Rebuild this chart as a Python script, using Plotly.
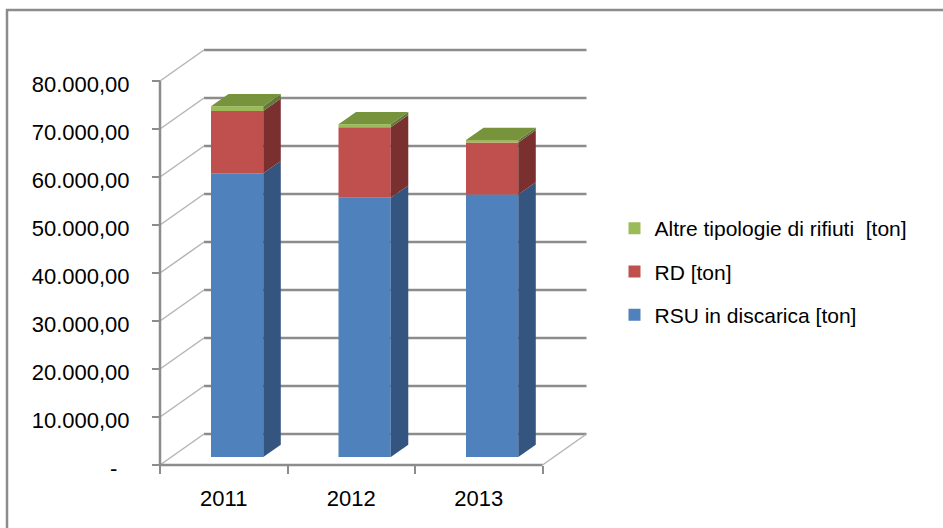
import plotly.graph_objects as go

# ---------------- data ----------------
years = ["2011", "2012", "2013"]
rsu = [59100, 54000, 54700]          # RSU in discarica [ton]
rd = [13000, 14700, 10800]           # RD [ton]
altre = [950, 620, 520]              # Altre tipologie di rifiuti [ton]
series_names = ["RSU in discarica [ton]", "RD [ton]", "Altre tipologie di rifiuti\u00a0\u00a0[ton]"]
y_tickvals = [0, 10000, 20000, 30000, 40000, 50000, 60000, 70000, 80000]
y_ticktext = ["-\u00a0\u00a0", "10.000,00", "20.000,00", "30.000,00", "40.000,00",
              "50.000,00", "60.000,00", "70.000,00", "80.000,00"]

# ---------------- styling / geometry ----------------
front_colors = ["#4F81BD", "#C0504D", "#9BBB59"]
side_colors = ["#33557F", "#7A302F", "#62773A"]
top_color = "#77933C"
grid_dark = "#8C8C8C"
grid_light = "#B4B4B4"
FONT = "Liberation Sans, Arial, sans-serif"

PX_CAT = 127.5      # pixels per category
PX_UNIT = 0.0048    # pixels per ton
W, H = 943, 528
L, R, T, B = 155, 600, 40, 470   # plot area in pixels

wall_dx = 44 / PX_CAT          # depth of the 3D box
wall_dy = 31 / PX_UNIT
bar_base = 8 / PX_UNIT          # bars stand a little behind the front edge
bar_off = 0.605                 # bar center within category
bar_w = 0.41
bd_dx = 17.5 / PX_CAT           # depth of a bar
bd_dy = 12.3 / PX_UNIT

x_range = [-(160 - L) / PX_CAT, (R - 160) / PX_CAT]
y_range = [-(B - 465) / PX_UNIT, (465 - T) / PX_UNIT]


def paper_x(px):
    return (px - L) / (R - L)


def paper_y(py):
    return (B - py) / (B - T)


fig = go.Figure()

series = [rsu, rd, altre]
ranks = [3, 2, 1]
n = len(years)
bases = [bar_base] * n
seg_bounds = []
for s, vals in enumerate(series):
    xs = [i + bar_off for i in range(n)]
    fig.add_trace(go.Bar(
        x=xs, y=vals, base=list(bases), width=bar_w,
        name=series_names[s], legendgroup=series_names[s], legendrank=ranks[s],
        marker=dict(color=front_colors[s], line=dict(width=0)),
        hoverinfo="skip",
    ))
    seg_bounds.append([(bases[i], bases[i] + vals[i]) for i in range(n)])
    bases = [bases[i] + vals[i] for i in range(n)]

# side faces
for s in range(len(series)):
    px_, py_ = [], []
    for i in range(n):
        x2 = i + bar_off + bar_w / 2
        b, t = seg_bounds[s][i]
        px_ += [x2, x2 + bd_dx, x2 + bd_dx, x2, x2, None]
        py_ += [b, b + bd_dy, t + bd_dy, t, b, None]
    fig.add_trace(go.Scatter(
        x=px_, y=py_, mode="lines", fill="toself", fillcolor=side_colors[s],
        line=dict(width=0, color=side_colors[s]), showlegend=False, hoverinfo="skip"))

# top faces
px_, py_ = [], []
for i in range(n):
    x1 = i + bar_off - bar_w / 2
    x2 = i + bar_off + bar_w / 2
    t = bases[i]
    px_ += [x1, x2, x2 + bd_dx, x1 + bd_dx, x1, None]
    py_ += [t, t, t + bd_dy, t + bd_dy, t, None]
fig.add_trace(go.Scatter(
    x=px_, y=py_, mode="lines", fill="toself", fillcolor=top_color,
    line=dict(width=0, color=top_color), showlegend=False, hoverinfo="skip"))

shapes = []
# back wall gridlines and left wall lines
for v in y_tickvals:
    shapes.append(dict(type="line", xref="x", yref="y", layer="below",
                       x0=wall_dx, x1=n + wall_dx, y0=v + wall_dy, y1=v + wall_dy,
                       line=dict(color=grid_dark, width=2.5)))
    shapes.append(dict(type="line", xref="x", yref="y", layer="below",
                       x0=0, x1=wall_dx, y0=v, y1=v + wall_dy,
                       line=dict(color=grid_light, width=1.5)))
# floor
shapes.append(dict(type="line", xref="x", yref="y", layer="below",
                   x0=n, x1=n + wall_dx, y0=0, y1=wall_dy,
                   line=dict(color=grid_light, width=1.5)))
shapes.append(dict(type="line", xref="x", yref="y", layer="below",
                   x0=0, x1=n, y0=0, y1=0, line=dict(color=grid_dark, width=2.5)))
# front vertical axis
shapes.append(dict(type="line", xref="x", yref="y", layer="below",
                   x0=0, x1=0, y0=0, y1=y_tickvals[-1], line=dict(color=grid_dark, width=2.5)))
# chart border (left and top)
shapes.append(dict(type="line", xref="paper", yref="paper",
                   x0=paper_x(7), x1=paper_x(7), y0=paper_y(9), y1=paper_y(540),
                   line=dict(color=grid_dark, width=2.5)))
shapes.append(dict(type="line", xref="paper", yref="paper",
                   x0=paper_x(6), x1=paper_x(960), y0=paper_y(10), y1=paper_y(10),
                   line=dict(color=grid_dark, width=2.5)))

fig.update_layout(
    width=W, height=H,
    margin=dict(l=L, r=W - R, t=T, b=H - B, pad=0),
    paper_bgcolor="white", plot_bgcolor="white",
    barmode="overlay",
    font=dict(family=FONT, size=22, color="#000000"),
    shapes=shapes,
    showlegend=True,
    legend=dict(
        x=paper_x(614.5), y=paper_y(208), xanchor="left", yanchor="top",
        traceorder="grouped", tracegroupgap=13,
        font=dict(family=FONT, size=21, color="#000000"),
        bgcolor="rgba(0,0,0,0)", borderwidth=0,
    ),
    xaxis=dict(
        range=x_range, anchor="free", position=paper_y(465),
        showgrid=False, zeroline=False, showline=False,
        tickmode="array", tickvals=[i + 0.5 for i in range(n)], ticktext=years,
        ticks="", ticklabelstandoff=18,
        minor=dict(tick0=0, dtick=1, ticks="outside", ticklen=8, tickwidth=2,
                   tickcolor=grid_dark, showgrid=False),
        tickfont=dict(family=FONT, size=22, color="#000000"),
        fixedrange=True,
    ),
    yaxis=dict(
        range=y_range, anchor="free", position=paper_x(160),
        showgrid=False, zeroline=False, showline=False,
        tickmode="array", tickvals=y_tickvals, ticktext=y_ticktext,
        ticks="outside", ticklen=8, tickwidth=2, tickcolor=grid_dark,
        ticklabelstandoff=18, ticklabelshift=3,
        tickfont=dict(family=FONT, size=22, color="#000000"),
        fixedrange=True,
    ),
)

fig.write_html("out.html", config={"displayModeBar": False},
               post_script="document.body.style.margin='0';document.body.style.padding='0';")
